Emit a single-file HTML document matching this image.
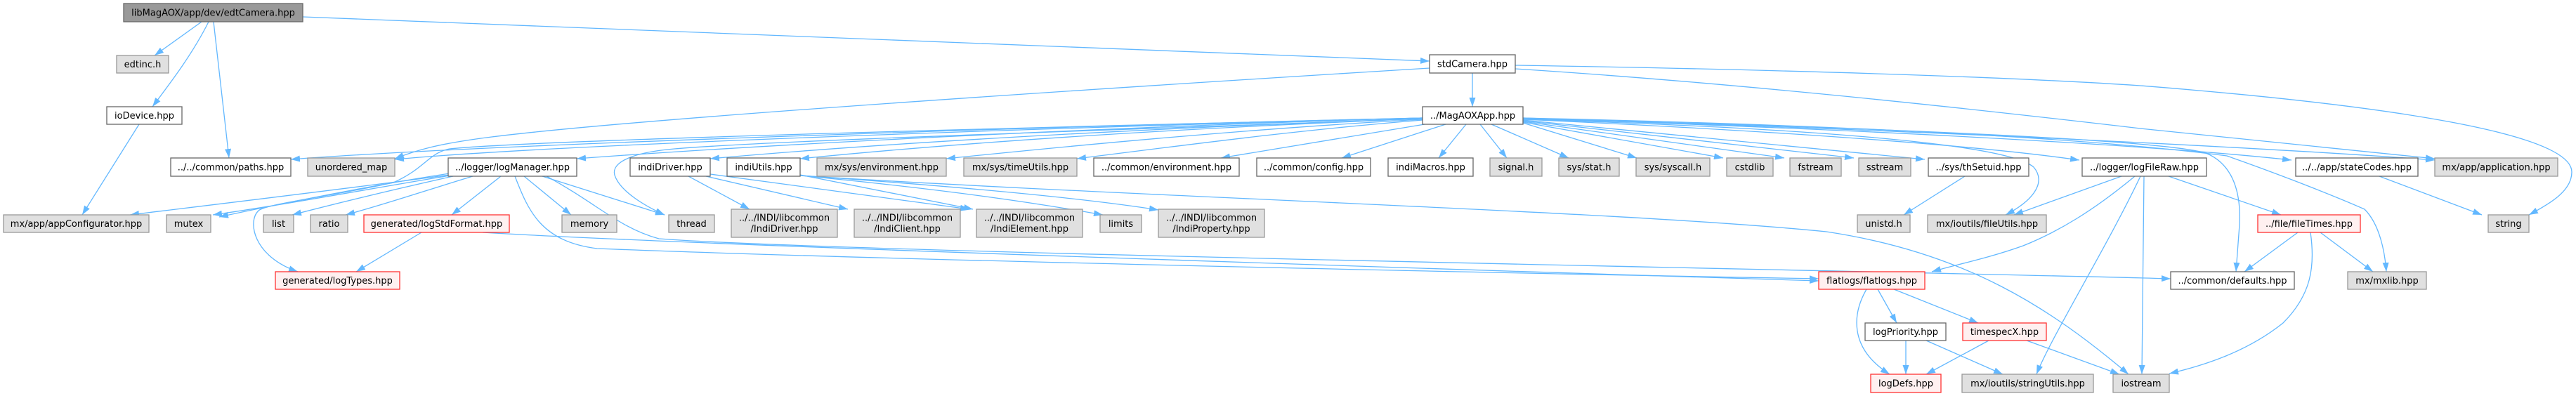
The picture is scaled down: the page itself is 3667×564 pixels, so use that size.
<!DOCTYPE html>
<html><head><meta charset="utf-8"><style>
html,body{margin:0;padding:0;background:#fff;width:3667px;height:564px;overflow:hidden}
svg{display:block}
text{font-family:"DejaVu Sans","Liberation Sans",sans-serif;font-size:13px;fill:#000;text-anchor:middle}
.W{fill:#fff;stroke:#666;stroke-width:1.3}
.E{fill:#e0e0e0;stroke:#999;stroke-width:1.3}
.R{fill:#999;stroke:#666;stroke-width:1.3}
.X{fill:#fff0f0;stroke:#f33;stroke-width:1.3}
.e{fill:none;stroke:#63b8ff;stroke-width:1.3;marker-end:url(#a)}
</style></head><body>
<svg width="3667" height="564" viewBox="0 0 3667 564" xmlns="http://www.w3.org/2000/svg">
<defs><marker id="a" markerUnits="userSpaceOnUse" markerWidth="13" markerHeight="9" refX="13" refY="4.5" orient="auto"><path d="M0,0 L13,4.5 L0,9 z" fill="#63b8ff"/></marker></defs>
<g>
<!-- edtCamera -->
<path class="e" d="M287,31 L220,79"/>
<path class="e" d="M297,31 C275,75 245,115 217,152"/>
<path class="e" d="M304,31 L326,225"/>
<path class="e" d="M431,24 L2035,87"/>
<!-- ioDevice -->
<path class="e" d="M198,177 L117,306"/>
<!-- stdCamera -->
<path class="e" d="M2096,104 L2096,152"/>
<path class="e" d="M2035,97 C1500,130 900,170 700,195 C620,205 590,215 562,226"/>
<path class="e" d="M2157,93 C2600,100 2900,112 3047,122 C3400,150 3661,190 3661,245 C3661,272 3630,290 3600,306"/>
<path class="e" d="M2157,98 C2500,120 2850,160 3047,183 C3250,205 3380,218 3466,226"/>
<!-- MagAOXApp left fan -->
<path class="e" d="M2025,168 C1500,180 700,205 414,227"/>
<path class="e" d="M2025,168 C1500,182 800,205 562,227"/>
<path class="e" d="M2025,168 C1400,183 760,200 640,212 C610,218 605,240 560,260 C470,280 380,290 368,300 C352,315 360,365 424,387"/>
<path class="e" d="M2025,168 C1600,180 1100,205 821,226"/>
<path class="e" d="M2025,169 C1600,185 1100,200 960,212 C890,218 868,235 876,252 C884,272 915,292 946,306"/>
<path class="e" d="M2025,169 C1700,180 1300,200 1011,226"/>
<path class="e" d="M2025,169 C1700,182 1400,200 1139,226"/>
<path class="e" d="M2025,170 C1800,182 1550,205 1347,226"/>
<path class="e" d="M2025,171 C1850,185 1700,205 1533,226"/>
<path class="e" d="M2028,177 L1738,225"/>
<path class="e" d="M2058,177 L1910,225"/>
<path class="e" d="M2087,177 L2048,225"/>
<path class="e" d="M2107,177 L2145,225"/>
<path class="e" d="M2123,177 L2233,225"/>
<!-- MagAOXApp right fan -->
<path class="e" d="M2168,175 L2330,225"/>
<path class="e" d="M2168,174 L2453,225"/>
<path class="e" d="M2168,173 L2540,225"/>
<path class="e" d="M2168,172 L2639,225"/>
<path class="e" d="M2168,171 L2740,227"/>
<path class="e" d="M2168,170 C2500,185 2800,205 2960,228"/>
<path class="e" d="M2168,169 C2700,185 3100,210 3262,228"/>
<path class="e" d="M2168,168 C2800,188 3250,212 3466,228"/>
<path class="e" d="M2168,170 C2500,180 2850,200 2895,238 C2915,262 2890,288 2855,306"/>
<path class="e" d="M2168,169 C2700,182 3080,200 3140,218 C3182,235 3190,280 3188,320 L3183,387"/>
<path class="e" d="M2168,168 C2700,180 3000,200 3170,222 C3250,250 3330,282 3366,298 C3388,320 3395,360 3397,387"/>
<!-- logManager -->
<path class="e" d="M640,249 C500,268 300,292 185,306"/>
<path class="e" d="M640,250 C520,270 390,294 303,306"/>
<path class="e" d="M640,247 C540,262 400,290 312,309"/>
<path class="e" d="M645,251 C560,270 470,292 416,306"/>
<path class="e" d="M673,251 C610,270 545,292 492,306"/>
<path class="e" d="M713,251 L643,306"/>
<path class="e" d="M746,251 L813,306"/>
<path class="e" d="M772,251 L946,306"/>
<path class="e" d="M778,251 C850,290 882,325 938,340 C1200,360 2700,386 3090,397"/>
<path class="e" d="M733,251 C752,300 770,344 850,354 C1300,372 2300,392 2589,397"/>
<!-- logStdFormat -->
<path class="e" d="M600,331 L507,387"/>
<path class="e" d="M687,331 C1000,350 2200,388 2589,400"/>
<!-- indiDriver -->
<path class="e" d="M980,251 L1067,298"/>
<path class="e" d="M1005,251 L1207,298"/>
<path class="e" d="M1011,248 L1380,298"/>
<!-- indiUtils -->
<path class="e" d="M1139,249 L1385,298"/>
<path class="e" d="M1139,250 C1350,270 1480,290 1570,306"/>
<path class="e" d="M1139,250 C1400,268 1560,285 1649,299"/>
<path class="e" d="M1139,250 C1600,280 2300,300 2600,330 C2800,360 2920,440 3030,533"/>
<!-- logFileRaw -->
<path class="e" d="M3020,251 L2867,306"/>
<path class="e" d="M3039,251 C2980,300 2930,330 2880,350 C2830,368 2780,378 2750,387"/>
<path class="e" d="M3047,251 C3000,350 2920,480 2899,533"/>
<path class="e" d="M3052,251 L3049,533"/>
<path class="e" d="M3087,251 L3247,306"/>
<!-- misc -->
<path class="e" d="M2797,251 L2710,306"/>
<path class="e" d="M3387,251 L3533,306"/>
<path class="e" d="M3271,331 L3195,387"/>
<path class="e" d="M3303,331 L3378,387"/>
<path class="e" d="M3289,331 C3296,380 3290,420 3250,460 C3200,500 3140,520 3088,532"/>
<!-- flatlogs -->
<path class="e" d="M2657,412 C2638,445 2630,495 2690,533"/>
<path class="e" d="M2673,412 L2700,460"/>
<path class="e" d="M2696,412 L2816,460"/>
<path class="e" d="M2713,485 L2713,533"/>
<path class="e" d="M2742,485 L2851,533"/>
<path class="e" d="M2831,485 L2742,533"/>
<path class="e" d="M2885,485 L3017,533"/>
</g>
<g>
<rect class="R" x="176" y="5" width="255" height="26"/><text x="303.5" y="22.5">libMagAOX/app/dev/edtCamera.hpp</text>
<rect class="E" x="166" y="79" width="74" height="25"/><text x="203" y="96">edtinc.h</text>
<rect class="W" x="2035" y="78" width="122" height="26"/><text x="2096" y="95.5">stdCamera.hpp</text>
<rect class="W" x="152" y="152" width="107" height="25"/><text x="205.5" y="169">ioDevice.hpp</text>
<rect class="W" x="2025" y="152" width="143" height="25"/><text x="2096.5" y="169">../MagAOXApp.hpp</text>

<rect class="W" x="243" y="225" width="171" height="26"/><text x="328.5" y="242.5">../../common/paths.hpp</text>
<rect class="E" x="438" y="225" width="124" height="26"/><text x="500" y="242.5">unordered_map</text>
<rect class="W" x="638" y="225" width="183" height="26"/><text x="729.5" y="242.5">../logger/logManager.hpp</text>
<rect class="W" x="897" y="225" width="114" height="26"/><text x="954" y="242.5">indiDriver.hpp</text>
<rect class="W" x="1035" y="225" width="104" height="26"/><text x="1087" y="242.5">indiUtils.hpp</text>
<rect class="E" x="1163" y="225" width="184" height="26"/><text x="1255" y="242.5">mx/sys/environment.hpp</text>
<rect class="E" x="1372" y="225" width="161" height="26"/><text x="1452.5" y="242.5">mx/sys/timeUtils.hpp</text>
<rect class="W" x="1557" y="225" width="207" height="26"/><text x="1660.5" y="242.5">../common/environment.hpp</text>
<rect class="W" x="1789" y="225" width="162" height="26"/><text x="1870" y="242.5">../common/config.hpp</text>
<rect class="W" x="1976" y="225" width="121" height="26"/><text x="2036.5" y="242.5">indiMacros.hpp</text>
<rect class="E" x="2121" y="225" width="74" height="26"/><text x="2158" y="242.5">signal.h</text>
<rect class="E" x="2219" y="225" width="86" height="26"/><text x="2262" y="242.5">sys/stat.h</text>
<rect class="E" x="2329" y="225" width="105" height="26"/><text x="2381.5" y="242.5">sys/syscall.h</text>
<rect class="E" x="2458" y="225" width="66" height="26"/><text x="2491" y="242.5">cstdlib</text>
<rect class="E" x="2548" y="225" width="73" height="26"/><text x="2584.5" y="242.5">fstream</text>
<rect class="E" x="2646" y="225" width="74" height="26"/><text x="2683" y="242.5">sstream</text>
<rect class="W" x="2745" y="225" width="143" height="26"/><text x="2816.5" y="242.5">../sys/thSetuid.hpp</text>
<rect class="W" x="2964" y="225" width="177" height="26"/><text x="3052.5" y="242.5">../logger/logFileRaw.hpp</text>
<rect class="W" x="3268" y="225" width="174" height="26"/><text x="3355" y="242.5">../../app/stateCodes.hpp</text>
<rect class="E" x="3466" y="225" width="175" height="26"/><text x="3553.5" y="242.5">mx/app/application.hpp</text>

<rect class="E" x="5" y="306" width="207" height="25"/><text x="108.5" y="323">mx/app/appConfigurator.hpp</text>
<rect class="E" x="237" y="306" width="63" height="25"/><text x="268.5" y="323">mutex</text>
<rect class="E" x="375" y="306" width="43" height="25"/><text x="396.5" y="323">list</text>
<rect class="E" x="442" y="306" width="53" height="25"/><text x="468.5" y="323">ratio</text>
<rect class="X" x="518" y="306" width="207" height="25"/><text x="621.5" y="323">generated/logStdFormat.hpp</text>
<rect class="E" x="800" y="306" width="78" height="25"/><text x="839" y="323">memory</text>
<rect class="E" x="952" y="306" width="65" height="25"/><text x="984.5" y="323">thread</text>
<rect class="E" x="1041" y="298" width="151" height="40"/><text x="1116.5" y="314.5">../../INDI/libcommon</text><text x="1116.5" y="330">/IndiDriver.hpp</text>
<rect class="E" x="1216" y="298" width="151" height="40"/><text x="1291.5" y="314.5">../../INDI/libcommon</text><text x="1291.5" y="330">/IndiClient.hpp</text>
<rect class="E" x="1390" y="298" width="151" height="40"/><text x="1465.5" y="314.5">../../INDI/libcommon</text><text x="1465.5" y="330">/IndiElement.hpp</text>
<rect class="E" x="1566" y="306" width="59" height="25"/><text x="1595.5" y="323">limits</text>
<rect class="E" x="1649" y="298" width="151" height="40"/><text x="1724.5" y="314.5">../../INDI/libcommon</text><text x="1724.5" y="330">/IndiProperty.hpp</text>
<rect class="E" x="2644" y="306" width="75" height="25"/><text x="2681.5" y="323">unistd.h</text>
<rect class="E" x="2744" y="306" width="169" height="25"/><text x="2828.5" y="323">mx/ioutils/fileUtils.hpp</text>
<rect class="X" x="3214" y="306" width="146" height="25"/><text x="3287" y="323">../file/fileTimes.hpp</text>
<rect class="E" x="3542" y="306" width="58" height="25"/><text x="3571" y="323">string</text>

<rect class="X" x="392" y="387" width="177" height="25"/><text x="480.5" y="404">generated/logTypes.hpp</text>
<rect class="X" x="2589" y="387" width="151" height="25"/><text x="2664.5" y="404">flatlogs/flatlogs.hpp</text>
<rect class="W" x="3090" y="387" width="176" height="25"/><text x="3178" y="404">../common/defaults.hpp</text>
<rect class="E" x="3342" y="387" width="112" height="25"/><text x="3398" y="404">mx/mxlib.hpp</text>

<rect class="W" x="2655" y="460" width="115" height="25"/><text x="2712.5" y="477">logPriority.hpp</text>
<rect class="X" x="2794" y="460" width="119" height="25"/><text x="2853.5" y="477">timespecX.hpp</text>

<rect class="X" x="2663" y="533" width="100" height="26"/><text x="2713" y="550.5">logDefs.hpp</text>
<rect class="E" x="2793" y="533" width="187" height="26"/><text x="2886.5" y="550.5">mx/ioutils/stringUtils.hpp</text>
<rect class="E" x="3008" y="533" width="80" height="26"/><text x="3048" y="550.5">iostream</text>
</g>
</svg>
</body></html>
